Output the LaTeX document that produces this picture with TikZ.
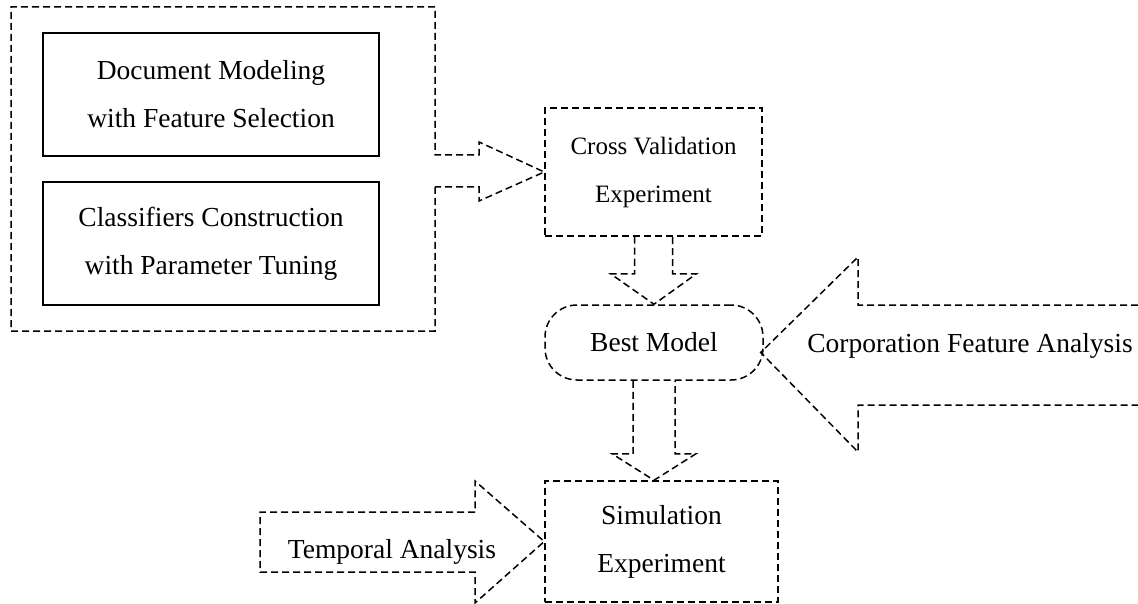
\documentclass[tikz,border=0pt]{standalone}
\usepackage{fontspec}
\setmainfont{Liberation Serif}
\usetikzlibrary{calc}

\begin{document}
\begin{tikzpicture}[
		x=1pt,
		y=-1pt,
		font=\fontsize{27.5}{48}\selectfont,
		dashline/.style={
			line width=1.5pt,
			dash pattern=on 7pt off 4pt,
		},
		solidbox/.style={
			draw,
			line width=2pt,
			minimum width=336pt,
			minimum height=123pt,
			align=center,
		},
		dashbox/.style={
			draw,
			dashline,
			align=center,
		},
	]
	\useasboundingbox (0,0) rectangle (1138,604);

	% the two preparation steps
	\node[solidbox] (docmodel) at (211,94.5) {Document Modeling\\with Feature Selection};
	\node[solidbox] (classifier) at (211,243.5) {Classifiers Construction\\with Parameter Tuning};

	% experiments and the chosen model
	\node[dashbox, font=\fontsize{25}{48}\selectfont, minimum width=217pt, minimum height=128pt] (crossval) at (653.5,172) {Cross Validation\\Experiment};
	\node[dashbox, rounded corners=32pt, minimum width=218pt, minimum height=75pt] (bestmodel) at (654,342.5) {Best Model};
	\node[dashbox, minimum width=233pt, minimum height=121pt] (simulation) at (661.5,541.5) {Simulation\\Experiment};

	% labels inside the block arrows
	\node[anchor=base] (corpfeat) at (970,352) {Corporation Feature Analysis};
	\node[anchor=base] (temporal) at (392,558) {Temporal Analysis};
	\coordinate (corptip) at ($(bestmodel.east)+(-3,10)$);

	% frame round the preparation steps, opening into an arrow
	\draw[dashline] (435,187) -- (435,331) -- (11,331) -- (11,7) -- (435,7) -- (435,155)
		-- (479,155) -- (479,142) -- (crossval.west) -- (479,201) -- (479,187) -- cycle;

	% cross validation -> best model
	\draw[dashline] ($(crossval.south)+(-19,0)$) -- ++(0,37) -- ++(-24,0) -- (bestmodel.north)
		-- ($(crossval.south)+(43,37)$) -- ++(-24,0) -- ($(crossval.south)+(19,0)$);

	% best model -> simulation
	\draw[dashline] ($(bestmodel.south)+(-21,0)$) -- ++(0,73) -- ++(-21,0) -- (bestmodel.south |- simulation.north)
		-- ($(bestmodel.south)+(42,73)$) -- ++(-21,0) -- ($(bestmodel.south)+(21,0)$);

	% corporation feature analysis -> best model
	\draw[dashline] (1138,305) -- (858,305) -- (858,257) -- (corptip) -- (858,452) -- (858,405) -- (1138,405);

	% temporal analysis -> simulation
	\draw[dashline] (475,512) -- (260,512) -- (260,572) -- (475,572) -- (475,603) -- (simulation.west) -- (475,481) -- cycle;
\end{tikzpicture}
\end{document}
